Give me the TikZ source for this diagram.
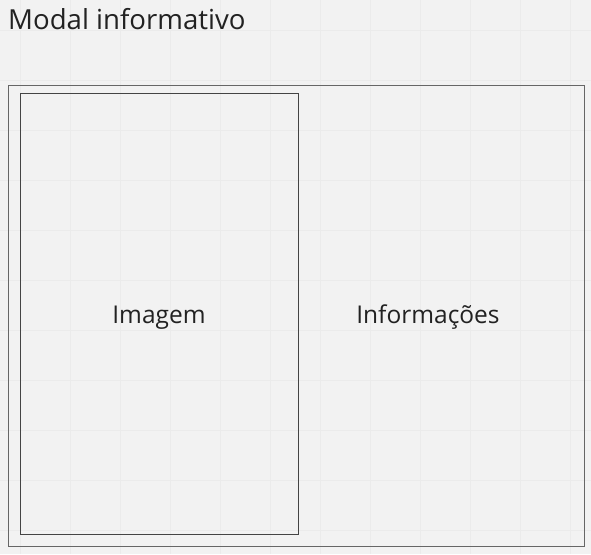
\documentclass[tikz,border=0pt]{standalone}
\usepackage{fontspec}
\setmainfont{Open Sans}
\definecolor{bg}{HTML}{F2F2F2}
\definecolor{gridc}{HTML}{EBEBEB}
\definecolor{ink}{HTML}{222222}
\definecolor{outerc}{HTML}{666666}
\definecolor{innerc}{HTML}{444444}
\begin{document}
\begin{tikzpicture}[x=1pt,y=-1pt,
  lbl/.style={text=ink,font=\fontsize{24.5}{28}\selectfont,inner sep=0pt,anchor=base}]
\useasboundingbox (0,0) rectangle (591,554);
\fill[bg] (0,0) rectangle (591,554);
\foreach \x in {20,70,...,570} \draw[gridc,line width=1pt] (\x,0) -- (\x,554);
\foreach \y in {30,80,...,530} \draw[gridc,line width=1pt] (0,\y) -- (591,\y);
\node[anchor=base west,text=ink,font=\fontsize{27.6}{32}\selectfont,inner sep=0pt] (title) at (8,29) {Modal informativo};
\node[draw=outerc,line width=1.3pt,minimum width=576pt,minimum height=461pt,anchor=north west,inner sep=0pt] (outer) at (8,85) {};
\node[draw=innerc,line width=1.3pt,minimum width=278pt,minimum height=441pt,anchor=north west,inner sep=0pt] (inner) at (20,93) {};
\node[lbl] (img) at (159,323) {Imagem};
\node[lbl] (info) at (428,323) {Informações};
\end{tikzpicture}
\end{document}
